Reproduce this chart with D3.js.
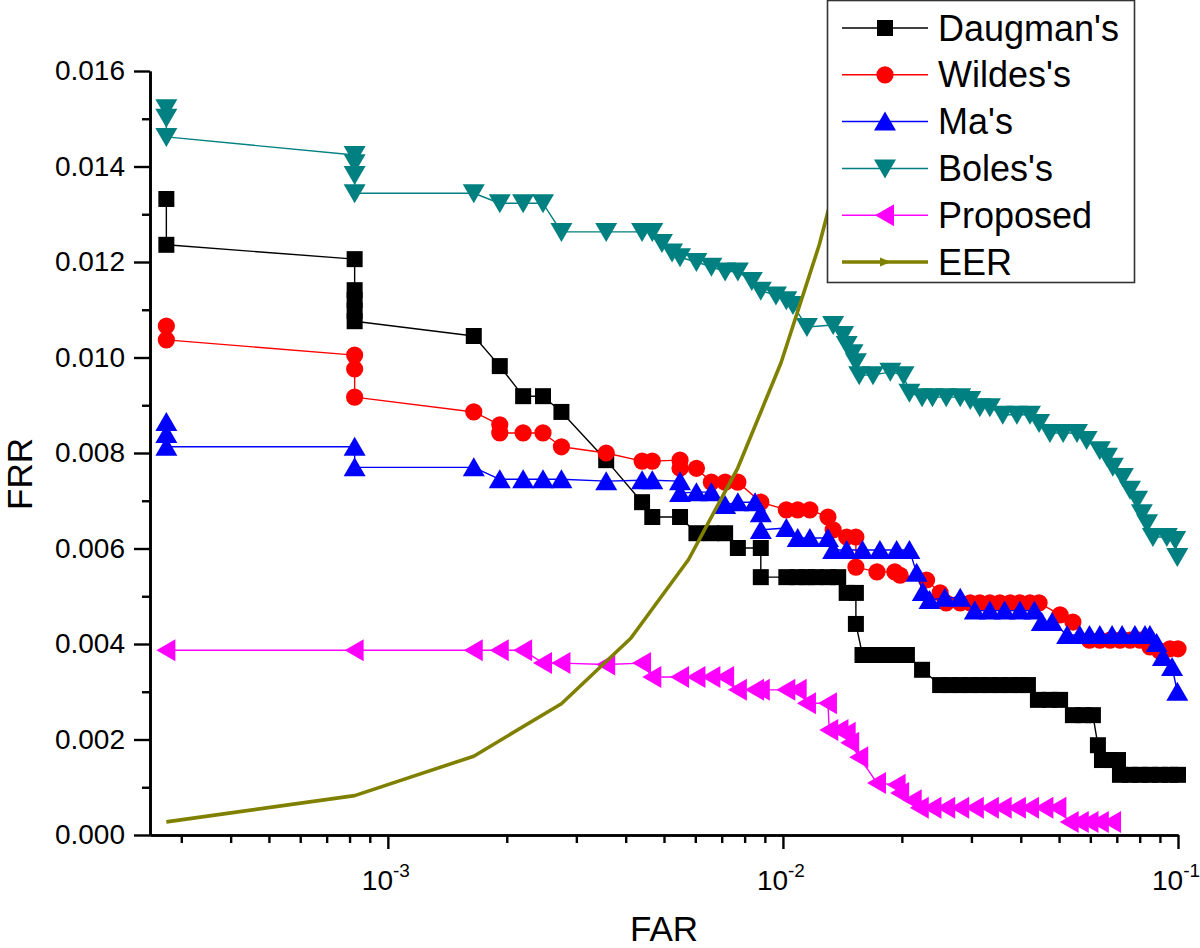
<!DOCTYPE html>
<html><head><meta charset="utf-8">
<script src="https://cdn.jsdelivr.net/npm/d3@7"></script>
<style>body{margin:0;background:#fff}svg{display:block}</style>
</head><body><svg id="c" width="1200" height="948"></svg>
<script>
// ---------------- data ----------------
const seriesNames = ["Daugman's", "Wildes's", "Ma's", "Boles's", "Proposed", "EER"];
const seriesColors = ["#000000", "#ff0000", "#0000ff", "#008080", "#ff00ff", "#808000"];
const seriesShapes = ["square", "circle", "up", "down", "left", "arrow"];

const daugmanFar = [0.000275,0.000275,0.000824,0.000824,0.000824,0.000824,0.000824,0.00165,0.00192,0.0022,0.00247,0.00275,0.00357,0.0044,0.00467,0.00549,0.00604,0.00659,0.00714,0.00769,0.00879,0.00879,0.0102,0.0109,0.0115,0.0121,0.0130,0.0138,0.0145,0.0153,0.0153,0.0159,0.0166,0.0173,0.0182,0.0198,0.0206,0.0225,0.0250,0.0265,0.0281,0.0298,0.0315,0.0334,0.0354,0.0376,0.0398,0.0417,0.0442,0.0474,0.0503,0.0542,0.0575,0.0609,0.0627,0.0642,0.0673,0.0705,0.0713,0.0756,0.0801,0.0849,0.0900,0.0954,0.1000];
const daugmanFrr = [0.01332,0.01236,0.01206,0.01141,0.01120,0.01098,0.01076,0.01045,0.00982,0.00919,0.00919,0.00886,0.00785,0.00697,0.00666,0.00666,0.00632,0.00632,0.00632,0.00601,0.00601,0.00540,0.00540,0.00540,0.00540,0.00540,0.00540,0.00540,0.00507,0.00507,0.00442,0.00377,0.00377,0.00377,0.00377,0.00377,0.00377,0.00346,0.00314,0.00314,0.00314,0.00314,0.00314,0.00314,0.00314,0.00314,0.00314,0.00314,0.00283,0.00283,0.00283,0.00251,0.00251,0.00251,0.00188,0.00157,0.00157,0.00157,0.00126,0.00126,0.00126,0.00126,0.00126,0.00126,0.00126];

const wildesFar = [0.000275,0.000275,0.000824,0.000824,0.000824,0.00165,0.00192,0.00192,0.0022,0.00247,0.00275,0.00357,0.0044,0.00467,0.00549,0.00549,0.00604,0.00659,0.00714,0.00769,0.00879,0.0102,0.0109,0.0117,0.0130,0.0134,0.0145,0.0153,0.0153,0.0173,0.0192,0.0198,0.0231,0.0250,0.0259,0.0281,0.0298,0.0315,0.0334,0.0354,0.0376,0.0398,0.0422,0.0445,0.0503,0.0542,0.0597,0.0634,0.0673,0.0713,0.0756,0.0801,0.0849,0.0900,0.0954,0.1000];
const wildesFrr = [0.01066,0.01037,0.01005,0.00976,0.00917,0.00886,0.00859,0.00842,0.00842,0.00842,0.00813,0.00800,0.00783,0.00783,0.00785,0.00768,0.00768,0.00739,0.00739,0.00739,0.00697,0.00681,0.00681,0.00681,0.00666,0.00639,0.00624,0.00624,0.00561,0.00551,0.00551,0.00544,0.00534,0.00507,0.00486,0.00486,0.00486,0.00486,0.00486,0.00486,0.00486,0.00486,0.00486,0.00486,0.00461,0.00446,0.00408,0.00408,0.00408,0.00408,0.00408,0.00408,0.00394,0.00385,0.00390,0.00390];

const maFar = [0.000275,0.000275,0.000275,0.000824,0.000824,0.00165,0.00192,0.0022,0.00247,0.00275,0.00357,0.0044,0.00467,0.00549,0.00549,0.00604,0.00659,0.00714,0.00769,0.0085,0.00879,0.00879,0.0102,0.0109,0.0117,0.0130,0.0134,0.0145,0.0159,0.0176,0.0194,0.0209,0.0218,0.0226,0.0235,0.0257,0.0281,0.0306,0.0334,0.0364,0.0398,0.0433,0.0452,0.0480,0.0524,0.0564,0.0597,0.0634,0.0681,0.0722,0.0778,0.0825,0.0849,0.0883,0.0916,0.0966,0.0996];
const maFrr = [0.00865,0.00840,0.00813,0.00813,0.00770,0.00770,0.00745,0.00745,0.00745,0.00745,0.00741,0.00743,0.00743,0.00741,0.00716,0.00718,0.00718,0.00691,0.00697,0.00697,0.00674,0.00639,0.00643,0.00622,0.00622,0.00622,0.00597,0.00597,0.00597,0.00597,0.00597,0.00597,0.00549,0.00509,0.00492,0.00497,0.00497,0.00470,0.00470,0.00470,0.00470,0.00470,0.00446,0.00446,0.00419,0.00419,0.00419,0.00419,0.00419,0.00419,0.00419,0.00419,0.00419,0.00402,0.00373,0.00352,0.00300];

const bolesFar = [0.000275,0.000275,0.000275,0.000824,0.000824,0.000824,0.000824,0.00165,0.00192,0.0022,0.00247,0.00275,0.00357,0.0044,0.00467,0.00494,0.00524,0.00549,0.00604,0.00659,0.00714,0.00769,0.00834,0.00879,0.0096,0.0102,0.0106,0.0115,0.0134,0.0142,0.0145,0.0150,0.0153,0.0156,0.0169,0.0187,0.0202,0.0209,0.0225,0.0239,0.0259,0.0281,0.0298,0.0315,0.0334,0.0360,0.0391,0.0422,0.0445,0.0474,0.0512,0.0555,0.0587,0.0634,0.0661,0.0684,0.0725,0.0756,0.0788,0.0810,0.0835,0.0864,0.0937,0.0984,0.0996];
const bolesFrr = [0.01522,0.01502,0.01462,0.01424,0.01407,0.01382,0.01344,0.01344,0.01323,0.01323,0.01323,0.01263,0.01263,0.01263,0.01263,0.01240,0.01220,0.01210,0.01200,0.01190,0.01180,0.01180,0.01160,0.01140,0.01130,0.01120,0.01110,0.01064,0.01068,0.01047,0.01026,0.01009,0.00990,0.00963,0.00963,0.00970,0.00963,0.00926,0.00917,0.00917,0.00917,0.00917,0.00911,0.00896,0.00896,0.00880,0.00880,0.00880,0.00863,0.00842,0.00842,0.00842,0.00827,0.00806,0.00792,0.00771,0.00750,0.00723,0.00702,0.00674,0.00653,0.00624,0.00624,0.00618,0.00582];

const proposedFar = [0.000275,0.000824,0.00165,0.00192,0.0022,0.00247,0.00275,0.00357,0.0044,0.00467,0.00549,0.00604,0.00659,0.00714,0.00769,0.0085,0.00879,0.0102,0.0109,0.0115,0.0130,0.0131,0.0139,0.0145,0.0148,0.0156,0.0173,0.0194,0.0198,0.0213,0.0222,0.0239,0.0259,0.0281,0.0306,0.0334,0.0360,0.0391,0.0422,0.0459,0.0495,0.0532,0.0564,0.0597,0.0634,0.0681];
const proposedFrr = [0.00387,0.00387,0.00387,0.00387,0.00387,0.00360,0.00360,0.00357,0.00360,0.00331,0.00331,0.00331,0.00331,0.00331,0.00304,0.00304,0.00304,0.00304,0.00304,0.00276,0.00276,0.00220,0.00220,0.00214,0.00193,0.00163,0.00109,0.00105,0.00088,0.00073,0.00057,0.00057,0.00057,0.00057,0.00057,0.00057,0.00057,0.00057,0.00057,0.00057,0.00057,0.00027,0.00027,0.00027,0.00027,0.00027];

const eerFar = [0.000275,0.000824,0.00165,0.00275,0.00412,0.00577,0.00769,0.00989,0.01236,0.01511];
const eerFrr = [0.000275,0.000824,0.00165,0.00275,0.00412,0.00577,0.00769,0.00989,0.01236,0.01511];

const yTickValues = [0, 0.002, 0.004, 0.006, 0.008, 0.010, 0.012, 0.014, 0.016];
const yMinorValues = [0.001, 0.003, 0.005, 0.007, 0.009, 0.011, 0.013, 0.015];
const xMajorValues = [0.001, 0.01, 0.1];
const xMajorExponents = ["-3", "-2", "-1"];
const xAxisTitle = "FAR", yAxisTitle = "FRR";

// ---------------- chart ----------------
const FONT = "'Liberation Sans', Arial, Helvetica, sans-serif";
const svg = d3.select("#c");
svg.append("rect").attr("width", 1200).attr("height", 948).attr("fill", "#fff");

const x = d3.scaleLog().domain([2.5e-4, 0.1]).range([150, 1178]);
const y = d3.scaleLinear().domain([0, 0.016]).range([835, 71]);

// axes
const yAxis = svg.append("g").attr("transform", "translate(150,0)")
  .call(d3.axisLeft(y).tickValues(yTickValues).tickFormat(d3.format(".3f"))
    .tickSize(16).tickSizeOuter(0).tickPadding(9));
const yMinor = svg.append("g").attr("transform", "translate(150,0)")
  .call(d3.axisLeft(y).tickValues(yMinorValues).tickFormat("").tickSize(8).tickSizeOuter(0));
const xMinorValues = x.ticks().filter(v => xMajorValues.indexOf(v) < 0 && Math.abs(Math.log10(v) - Math.round(Math.log10(v))) > 1e-6);
const xAxis = svg.append("g").attr("transform", "translate(0,835)")
  .call(d3.axisBottom(x).tickValues(xMajorValues).tickFormat("").tickSize(14).tickSizeOuter(0));
const xMinor = svg.append("g").attr("transform", "translate(0,835)")
  .call(d3.axisBottom(x).tickValues(xMinorValues).tickFormat("").tickSize(8).tickSizeOuter(0));

[yAxis, yMinor, xAxis, xMinor].forEach(g => {
  g.selectAll("path.domain").attr("stroke", "#000").attr("stroke-width", 2.6);
  g.selectAll(".tick line").attr("stroke", "#000").attr("stroke-width", 2.4);
});
yAxis.selectAll(".tick text").attr("font-family", FONT).attr("font-size", 28).attr("fill", "#000");

// x tick labels 10^n
const xl = svg.append("g");
xMajorValues.forEach((v, i) => {
  const t = xl.append("text").attr("x", x(v) - 2).attr("y", 890)
    .attr("text-anchor", "middle").attr("font-family", FONT).attr("font-size", 28).attr("fill", "#000");
  t.append("tspan").text("10");
  t.append("tspan").attr("dy", -13).attr("font-size", 19).text(xMajorExponents[i]);
});

// axis titles
svg.append("text").attr("x", 664).attr("y", 941).attr("text-anchor", "middle")
  .attr("font-family", FONT).attr("font-size", 35).text(xAxisTitle);
svg.append("text").attr("transform", "translate(32,474) rotate(-90)").attr("text-anchor", "middle")
  .attr("font-family", FONT).attr("font-size", 35).text(yAxisTitle);

// markers
function markerPath(shape) {
  switch (shape) {
    case "square": return "M-8,-8H8V8H-8Z";
    case "circle": return d3.symbol(d3.symbolCircle, Math.PI * 8.6 * 8.6)();
    case "up": return "M0,-10L11,9L-11,9Z";
    case "down": return "M0,10L11,-9L-11,-9Z";
    case "left": return "M-10,0L9,-11L9,11Z";
    case "arrow": return "M-5,-4.5L6,0L-5,4.5Z";
  }
}

const seriesData = [
  [daugmanFar, daugmanFrr], [wildesFar, wildesFrr], [maFar, maFrr],
  [bolesFar, bolesFrr], [proposedFar, proposedFrr], [eerFar, eerFrr]
];
const line = d3.line().x(d => x(d[0])).y(d => y(d[1]));

seriesData.forEach(([fa, fr], i) => {
  const pts = fa.map((v, j) => [v, fr[j]]);
  const g = svg.append("g");
  const isEer = i === 5;
  g.append("path").datum(pts).attr("d", line).attr("fill", "none")
    .attr("stroke", seriesColors[i]).attr("stroke-width", isEer ? 3.6 : 1.4)
    .attr("stroke-linejoin", "round");
  if (!isEer) {
    g.selectAll("path.m").data(pts).enter().append("path").attr("class", "m")
      .attr("d", markerPath(seriesShapes[i]))
      .attr("transform", d => `translate(${x(d[0])},${y(d[1])})`)
      .attr("fill", seriesColors[i]);
  }
});

// legend
const lg = svg.append("g");
lg.append("rect").attr("x", 827.5).attr("y", 0.5).attr("width", 307).attr("height", 282)
  .attr("fill", "#fff").attr("stroke", "#333").attr("stroke-width", 1.6);
seriesNames.forEach((name, i) => {
  const cy = 28 + i * 46.8;
  lg.append("line").attr("x1", 842).attr("x2", 928).attr("y1", cy).attr("y2", cy)
    .attr("stroke", seriesColors[i]).attr("stroke-width", i === 5 ? 3.6 : 1.5);
  lg.append("path").attr("d", markerPath(seriesShapes[i]))
    .attr("transform", `translate(885,${cy})`).attr("fill", seriesColors[i]);
  lg.append("text").attr("x", 938).attr("y", cy + 12.5).attr("font-family", FONT)
    .attr("font-size", 36).attr("fill", "#000").text(name);
});
</script></body></html>
